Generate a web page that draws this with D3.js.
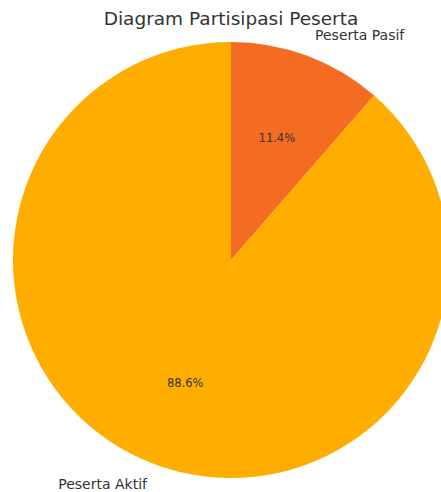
<!DOCTYPE html>
<html>
<head>
<meta charset="utf-8">
<script src="https://cdn.jsdelivr.net/npm/d3@7"></script>
<style>
  body { margin: 0; background: #fff; overflow: hidden; }
  svg text { font-family: "DejaVu Sans", sans-serif; }
</style>
</head>
<body>
<div id="chart"></div>
<script>
var categories = ['Peserta Pasif', 'Peserta Aktif'];
var values = [11.4, 88.6];
var colors = ['#F36C21', '#FFAE00'];

var w = 441, h = 492,
    cx = 231, cy = 260,
    r = 218;

var svg = d3.select('#chart')
    .append('svg')
    .attr('width', w)
    .attr('height', h);

svg.append('text')
    .attr('x', cx)
    .attr('y', 25)
    .attr('text-anchor', 'middle')
    .style('font-size', '18.5px')
    .style('fill', '#333')
    .text('Diagram Partisipasi Peserta');

var nodes = categories.map(function(c, i){
    return { name: c, value: values[i], color: colors[i] };
});

// clockwise from 12 o'clock, like startangle=90 / counterclock=False
var pie = d3.pie()
    .sort(null)
    .value(function(d){ return d.value; });

var arc = d3.arc().innerRadius(0).outerRadius(r);

var g = svg.append('g').attr('transform', 'translate(' + cx + ',' + cy + ')');

var arcs = pie(nodes);

g.selectAll('path')
    .data(arcs)
    .enter()
    .append('path')
    .attr('d', arc)
    .style('fill', function(d){ return d.data.color; });

var total = d3.sum(values);
var mid = function(d){ return (d.startAngle + d.endAngle) / 2; };

g.selectAll('text.pct')
    .data(arcs)
    .enter()
    .append('text')
    .attr('class', 'pct')
    .attr('x', function(d){ return 0.6 * r * Math.sin(mid(d)); })
    .attr('y', function(d){ return -0.6 * r * Math.cos(mid(d)); })
    .attr('dy', '0.35em')
    .attr('text-anchor', 'middle')
    .style('font-size', '11.5px')
    .style('fill', '#333')
    .text(function(d){ return (d.data.value / total * 100).toFixed(1) + '%'; });

g.selectAll('text.lbl')
    .data(arcs)
    .enter()
    .append('text')
    .attr('class', 'lbl')
    .attr('x', function(d){ return 1.1 * r * Math.sin(mid(d)); })
    .attr('y', function(d){ return -1.1 * r * Math.cos(mid(d)); })
    .attr('dy', '0.35em')
    .attr('text-anchor', function(d){ return Math.sin(mid(d)) >= 0 ? 'start' : 'end'; })
    .style('font-size', '14px')
    .style('fill', '#333')
    .text(function(d){ return d.data.name; });
</script>
</body>
</html>
